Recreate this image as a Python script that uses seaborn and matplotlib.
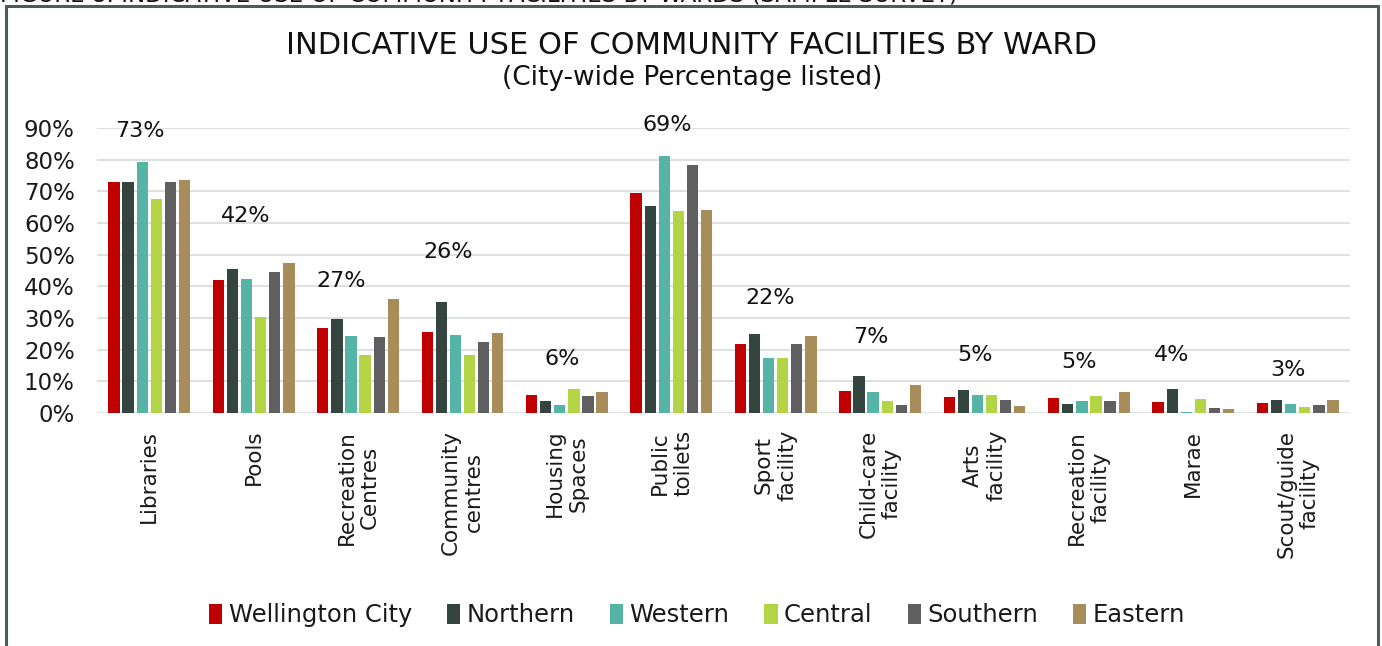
import matplotlib
matplotlib.use("Agg")
import matplotlib.pyplot as plt
from matplotlib.patches import Rectangle
import seaborn as sns
import pandas as pd

# Facility categories (x axis)
facilities = [
    "Libraries", "Pools", "Recreation\nCentres", "Community\ncentres",
    "Housing\nSpaces", "Public\ntoilets", "Sport\nfacility",
    "Child-care\nfacility", "Arts\nfacility", "Recreation\nfacility",
    "Marae", "Scout/guide\nfacility",
]

# Wards (hue order)
wards = ["Wellington City", "Northern", "Western", "Central", "Southern", "Eastern"]

# Percentage of respondents using each facility, by ward
wellington_city = [72.8, 42.1, 26.9, 25.6, 5.6, 69.4, 21.7, 6.9, 5.1, 4.6, 3.6, 3.1]
northern        = [73.1, 45.5, 29.6, 35.1, 3.7, 65.5, 25.0, 11.8, 7.4, 2.8, 7.5, 4.1]
western         = [79.3, 42.3, 24.3, 24.6, 2.5, 81.2, 17.3, 6.5, 5.7, 3.7, 0.4, 2.7]
central         = [67.5, 30.4, 18.2, 18.4, 7.5, 63.8, 17.3, 3.8, 5.8, 5.5, 4.4, 2.0]
southern        = [73.1, 44.4, 24.0, 22.5, 5.4, 78.3, 21.8, 2.5, 4.1, 3.7, 1.5, 2.6]
eastern         = [73.7, 47.3, 35.9, 25.4, 6.6, 64.1, 24.2, 8.7, 2.3, 6.6, 1.3, 4.0]

ward_colors = ["#C00000", "#344540", "#55B4A5", "#B3D444", "#5F5F61", "#A88C5A"]

# Where each city-wide label sits (y in axis units, x offset in category units)
label_y = [89.0, 62.2, 41.7, 50.8, 17.0, 90.9, 36.3, 24.0, 18.3, 16.2, 18.3, 13.6]
label_dx = [-0.09, -0.08, -0.16, -0.14, -0.045, -0.04, -0.05, -0.09, -0.09, -0.09, -0.21, -0.09]

series = [wellington_city, northern, western, central, southern, eastern]
df = pd.DataFrame(
    [(f, w, v) for w, vals in zip(wards, series) for f, v in zip(facilities, vals)],
    columns=["facility", "ward", "pct"],
)

sns.set_theme(style="white")
plt.rcParams["font.family"] = ["DejaVu Sans"]

W, H = 1382, 646
fig = plt.figure(figsize=(W / 100, H / 100), dpi=100)
ax = fig.add_axes([97 / W, 1 - 413 / H, (1350 - 97) / W, (413 - 128) / H])

sns.barplot(
    data=df, x="facility", y="pct", hue="ward",
    order=facilities, hue_order=wards, palette=ward_colors, saturation=1,
    width=0.81, gap=0.2, linewidth=0, errorbar=None, ax=ax,
)

ax.set_xlim(-0.5, len(facilities) - 0.5)
ax.set_ylim(0, 90)
ax.set_yticks(range(0, 91, 10))
ax.set_yticklabels([f"{t}%" for t in range(0, 91, 10)], fontsize=16.5, color="#1a1a1a")
ax.yaxis.grid(True, color="#DCE2DF", linewidth=1.5)
ax.set_axisbelow(True)
for s in ax.spines.values():
    s.set_visible(False)
ax.tick_params(axis="both", length=0)
ax.tick_params(axis="y", pad=16)
ax.set_xlabel("")
ax.set_ylabel("")
ax.set_xticks(range(len(facilities)))
ax.set_xticklabels(facilities, rotation=90, fontsize=15.5, color="#1a1a1a",
                   va="top", ha="center", multialignment="center")
ax.tick_params(axis="x", pad=12)

# City-wide percentage above each group
for i, v in enumerate(wellington_city):
    ax.text(i + label_dx[i], label_y[i], f"{round(v):d}%", ha="center", va="center",
            fontsize=16, color="#111111", clip_on=False)

# Legend below the chart
handles, labels = ax.get_legend_handles_labels()
ax.get_legend().remove()
fig.legend(handles, labels, loc="center", bbox_to_anchor=(697 / W, 1 - 615 / H),
           ncol=6, frameon=False, fontsize=17.5, handlelength=0.55, handleheight=0.9,
           handletextpad=0.25, columnspacing=1.45, labelcolor="#1a1a1a")

# Titles
fig.text(692 / W, 1 - 46 / H, "INDICATIVE USE OF COMMUNITY FACILITIES BY WARD",
         ha="center", va="center", fontsize=22, color="#111111")
fig.text(692 / W, 1 - 78 / H, "(City-wide Percentage listed)",
         ha="center", va="center", fontsize=19, color="#111111")

# Figure caption running off the top edge
fig.text(0, 1 - 1 / H, "FIGURE 8: INDICATIVE USE OF COMMUNITY FACILITIES BY WARDS (SAMPLE SURVEY)",
         ha="left", va="baseline", fontsize=16.5, color="#111111")

# Chart frame
fig.patches.append(Rectangle((6 / W, -0.05), (1378 - 6) / W, 1 - 6 / H + 0.05,
                             transform=fig.transFigure, fill=False,
                             edgecolor="#4F5B57", linewidth=2.2))

fig.savefig("out.png", dpi=100)
